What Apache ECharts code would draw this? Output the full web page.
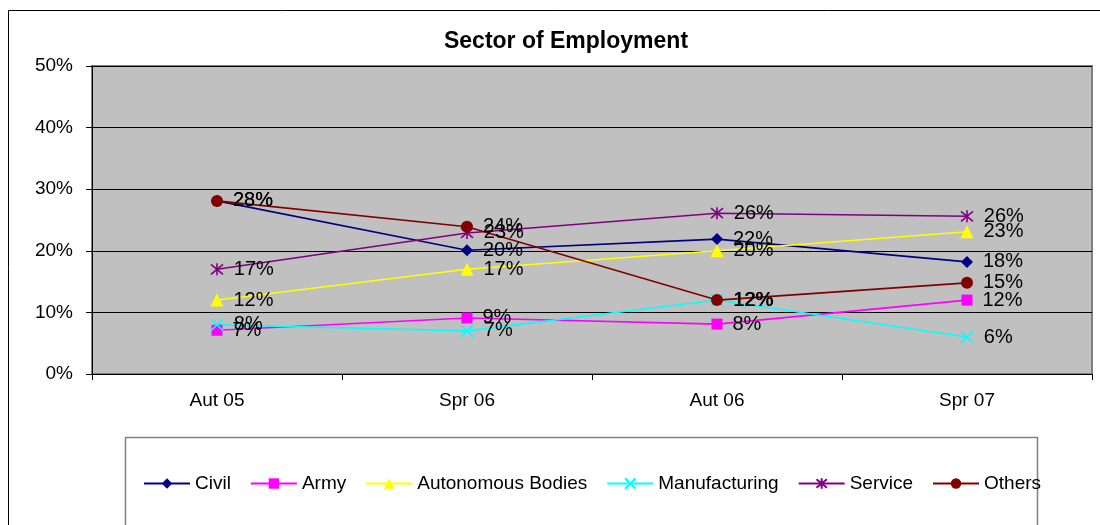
<!DOCTYPE html>
<html>
<head>
<meta charset="utf-8">
<script src="https://cdn.jsdelivr.net/npm/echarts@6/dist/echarts.min.js"></script>
<style>
  html, body { margin: 0; padding: 0; background: #fff; }
  #chart { width: 1100px; height: 525px; }
</style>
</head>
<body>
<div id="chart"></div>
<script>
const periods = ['Aut 05', 'Spr 06', 'Aut 06', 'Spr 07'];

// values in percent
const civil = [28.1, 20.1, 21.9, 18.2];
const army = [7.1, 9.1, 8.1, 12.0];
const autonomous = [12.0, 17.0, 20.0, 23.1];
const manufacturing = [8.0, 7.0, 12.0, 6.0];
const service = [17.0, 22.9, 26.1, 25.6];
const others = [28.1, 23.9, 12.0, 14.8];

const yTicks = { min: 0, max: 50, interval: 10 };

const crossPath = 'path://M0,0L10,10M10,0L0,10';
const starPath = 'path://M0,0L10,10M10,0L0,10M5,-1L5,11';

const chart = echarts.init(document.getElementById('chart'));

const mkSeries = (name, data, color, symbol, size, hollow) => ({
  name,
  type: 'line',
  data,
  symbol,
  symbolSize: size,
  showAllSymbol: true,
  itemStyle: hollow
    ? { color: 'rgba(0,0,0,0)', borderColor: color, borderWidth: 1.6 }
    : { color: color, borderWidth: 0 },
  lineStyle: { color: color, width: 1.6 },
  emphasis: { disabled: true },
  label: {
    show: true,
    position: 'right',
    distance: 10,
    color: '#000',
    fontFamily: 'Liberation Sans',
    fontSize: 20,
    formatter: p => Math.round(p.value) + '%'
  }
});

chart.setOption({
  animation: false,
  backgroundColor: '#fff',
  title: {
    text: 'Sector of Employment',
    left: 561,
    top: 25,
    textAlign: 'center',
    textStyle: { fontFamily: 'Liberation Sans', fontWeight: 'bold', fontSize: 23, color: '#000' }
  },
  graphic: [
    {
      type: 'rect',
      shape: { x: 8.5, y: 10.5, width: 1200, height: 600 },
      style: { fill: 'none', stroke: '#000', lineWidth: 1 },
      z: -1
    },
    {
      type: 'rect',
      shape: { x: 125.5, y: 437.5, width: 912, height: 200 },
      style: { fill: '#fff', stroke: '#808080', lineWidth: 1.5 },
      z: -1
    }
  ],
  legend: {
    left: 138,
    top: 469,
    itemWidth: 46,
    itemHeight: 13,
    itemGap: 19,
    textStyle: { fontFamily: 'Liberation Sans', fontSize: 19, color: '#000' },
    data: ['Civil', 'Army', 'Autonomous Bodies', 'Manufacturing', 'Service', 'Others']
  },
  grid: {
    left: 92,
    top: 66,
    width: 1000,
    height: 308,
    show: true,
    backgroundColor: '#C0C0C0',
    borderColor: '#808080',
    borderWidth: 2
  },
  xAxis: {
    type: 'category',
    data: periods,
    boundaryGap: true,
    axisLine: { lineStyle: { color: '#000', width: 1 } },
    axisTick: { show: true, interval: 0, length: 6, lineStyle: { color: '#000' } },
    axisLabel: { color: '#000', fontFamily: 'Liberation Sans', fontSize: 19, margin: 17 }
  },
  yAxis: {
    type: 'value',
    min: yTicks.min,
    max: yTicks.max,
    interval: yTicks.interval,
    axisLine: { show: true, lineStyle: { color: '#000', width: 1 } },
    axisTick: { show: true, length: 6, lineStyle: { color: '#000' } },
    axisLabel: { color: '#000', fontFamily: 'Liberation Sans', fontSize: 19, margin: 19, formatter: v => v + '%' },
    splitLine: { show: true, lineStyle: { color: '#000', width: 1 } }
  },
  series: [
    mkSeries('Civil', civil, '#000080', 'diamond', 12, false),
    mkSeries('Army', army, '#FF00FF', 'rect', 11, false),
    mkSeries('Autonomous Bodies', autonomous, '#FFFF00', 'triangle', 13, false),
    mkSeries('Manufacturing', manufacturing, '#00FFFF', crossPath, 12, true),
    mkSeries('Service', service, '#800080', starPath, 12, true),
    mkSeries('Others', others, '#800000', 'circle', 12, false)
  ]
});
</script>
</body>
</html>
